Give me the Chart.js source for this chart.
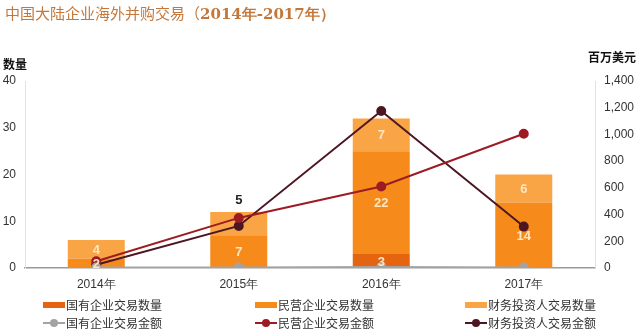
<!DOCTYPE html>
<html lang="zh">
<head>
  <meta charset="UTF-8" />
  <title>中国大陆企业海外并购交易</title>
  <script src="https://cdn.jsdelivr.net/npm/chart.js"></script>
  <style>
    body { margin: 0; background: #fff; font-family: "Noto Sans CJK SC", "Liberation Sans", sans-serif; }
    #wrap { position: relative; width: 640px; height: 329px; overflow: hidden; }
    #c { position: absolute; left: 0; top: 0; }
    .title { position: absolute; left: 5px; top: 2px; font-size: 15px; color: #c4773a; white-space: nowrap; }
    .title b { font-family: "DejaVu Serif", "Liberation Serif", serif; font-size: 15px; }
    .axt { position: absolute; font-size: 12px; font-weight: bold; color: #111; }
    .lg { position: absolute; font-size: 12px; color: #333; white-space: nowrap; line-height: 14px; }
    .box { position: absolute; width: 22px; height: 6px; }
    .ln { position: absolute; width: 22px; height: 2px; }
    .dot { position: absolute; width: 8px; height: 8px; border-radius: 50%; left: 7px; top: -3px; }
  </style>
</head>
<body>
<div id="wrap">
  <canvas id="c" width="640" height="329"></canvas>
  <div class="title">中国大陆企业海外并购交易（<b>2014年-2017年）</b></div>
  <div class="axt" style="left:3px;top:55px;">数量</div>
  <div class="axt" style="left:588px;top:48px;">百万美元</div>
  <div id="legend"></div>
</div>

<script>
  // categories and values
  const years = ["2014年", "2015年", "2016年", "2017年"];

  // deal counts (left axis)
  const stateCount = [0, 0, 3, 0];
  const privateCount = [2, 7, 22, 14];
  const investorCount = [4, 5, 7, 6];

  // deal value, USD millions (right axis)
  const stateValue = [3, 3, 8, 3];
  const privateValue = [50, 375, 610, 1005];
  const investorValue = [25, 315, 1175, 310];

  const countTicks = [0, 10, 20, 30, 40];
  const valueTicks = [0, 200, 400, 600, 800, 1000, 1200, 1400];

  const colState = "#e4640f";
  const colPrivate = "#f68b1c";
  const colInvestor = "#f9a545";
  const colStateLine = "#a3a3a3";
  const colPrivateLine = "#9d1b22";
  const colInvestorLine = "#4c1722";

  // numbers on the bar segments
  const barLabels = {
    id: "barLabels",
    afterDatasetsDraw(chart) {
      const ctx = chart.ctx;
      ctx.save();
      ctx.font = 'bold 13px "Liberation Sans", Arial, sans-serif';
      ctx.textAlign = "center";
      ctx.textBaseline = "middle";
      chart.data.datasets.forEach((ds, i) => {
        if (ds.type !== "bar") return;
        chart.getDatasetMeta(i).data.forEach((bar, j) => {
          const v = ds.data[j];
          if (!v) return;
          // 2015 investor count sits above the bar in dark text
          if (i === 2 && j === 1) {
            ctx.fillStyle = "#222";
            ctx.fillText(v, bar.x, bar.y - 11);
          } else {
            ctx.fillStyle = "#fde6c4";
            ctx.fillText(v, bar.x, (bar.y + bar.base) / 2 + 1);
          }
        });
      });
      ctx.restore();
    }
  };

  const tickFont = { family: '"Liberation Sans", Arial, sans-serif', size: 12 };

  new Chart(document.getElementById("c"), {
    data: {
      labels: years,
      datasets: [
        { type: "bar", label: "国有企业交易数量", data: stateCount, backgroundColor: colState, yAxisID: "y", order: 1 },
        { type: "bar", label: "民营企业交易数量", data: privateCount, backgroundColor: colPrivate, yAxisID: "y", order: 1 },
        { type: "bar", label: "财务投资人交易数量", data: investorCount, backgroundColor: colInvestor, yAxisID: "y", order: 1 },
        { type: "line", label: "国有企业交易金额", data: stateValue, borderColor: colStateLine, backgroundColor: colStateLine,
          borderWidth: 2, pointRadius: 4, tension: 0, yAxisID: "y1", order: 0 },
        { type: "line", label: "民营企业交易金额", data: privateValue, borderColor: colPrivateLine, backgroundColor: colPrivateLine,
          borderWidth: 2, pointRadius: 4, tension: 0, yAxisID: "y1", order: 0 },
        { type: "line", label: "财务投资人交易金额", data: investorValue, borderColor: colInvestorLine, backgroundColor: colInvestorLine,
          borderWidth: 2, pointRadius: 4, tension: 0, yAxisID: "y1", order: 0 }
      ]
    },
    options: {
      responsive: false,
      animation: false,
      layout: { padding: { top: 81, bottom: 36, left: 0, right: 0 } },
      plugins: { legend: { display: false }, tooltip: { enabled: false } },
      datasets: { bar: { categoryPercentage: 1, barPercentage: 0.4 } },
      scales: {
        x: {
          stacked: true,
          grid: { display: false, drawTicks: false },
          border: { color: "#9a9a9a", width: 1.5 },
          ticks: { color: "#333", font: tickFont, padding: 9 },
          afterFit: s => { s.height = 25; }
        },
        y: {
          stacked: true,
          position: "left",
          min: 0, max: 40,
          afterBuildTicks: s => { s.ticks = countTicks.map(v => ({ value: v })); },
          grid: { display: false, drawTicks: false },
          border: { color: "#e2e2e2" },
          ticks: { color: "#333", font: tickFont, padding: 9 },
          afterFit: s => { s.width = 25; }
        },
        y1: {
          stacked: false,
          position: "right",
          min: 0, max: 1400,
          afterBuildTicks: s => { s.ticks = valueTicks.map(v => ({ value: v })); },
          grid: { display: false, drawTicks: false },
          border: { color: "#e2e2e2" },
          ticks: { color: "#333", font: tickFont, padding: 9, callback: v => v.toLocaleString("en-US") },
          afterFit: s => { s.width = 45; }
        }
      }
    },
    plugins: [barLabels]
  });

  // legend, three columns by two rows
  const legendItems = [
    { text: "国有企业交易数量", color: colState, kind: "box", x: 43, y: 298 },
    { text: "民营企业交易数量", color: colPrivate, kind: "box", x: 255, y: 298 },
    { text: "财务投资人交易数量", color: colInvestor, kind: "box", x: 465, y: 298 },
    { text: "国有企业交易金额", color: colStateLine, kind: "line", x: 43, y: 316 },
    { text: "民营企业交易金额", color: colPrivateLine, kind: "line", x: 255, y: 316 },
    { text: "财务投资人交易金额", color: colInvestorLine, kind: "line", x: 465, y: 316 }
  ];
  const legend = document.getElementById("legend");
  legendItems.forEach(it => {
    const el = document.createElement("div");
    el.className = "lg";
    el.style.left = it.x + "px";
    el.style.top = it.y + "px";
    el.style.paddingLeft = "23px";
    const mark = it.kind === "box"
      ? `<span class="box" style="left:0;top:4px;background:${it.color}"></span>`
      : `<span class="ln" style="left:0;top:6px;background:${it.color}"><span class="dot" style="background:${it.color}"></span></span>`;
    el.innerHTML = mark + it.text;
    legend.appendChild(el);
  });
</script>
</body>
</html>
